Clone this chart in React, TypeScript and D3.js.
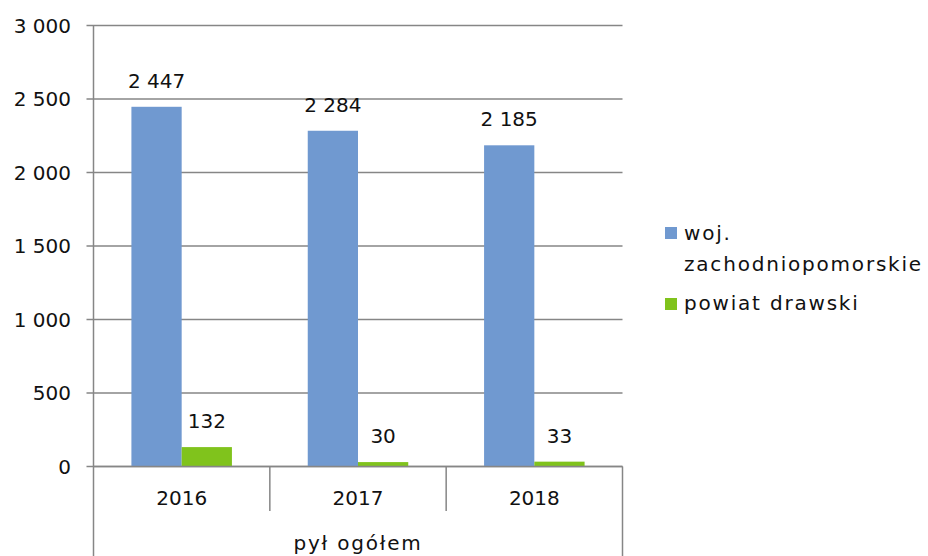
import React from "react";
import * as d3 from "d3";

const categories = ["2016", "2017", "2018"];
const seriesNames = ["woj. zachodniopomorskie", "powiat drawski"];
const wojValues = [2447, 2284, 2185];
const powiatValues = [132, 30, 33];
const yTicks = [0, 500, 1000, 1500, 2000, 2500, 3000];
const groupLabel = "pył ogółem";

const colors = ["#7099D0", "#80C31C"];
const fmt = (v: number) => {
  const s = String(v);
  return s.replace(/\B(?=(\d{3})+(?!\d))/g, " ");
};

export default function App() {
  const W = 928, H = 556;
  const left = 93.5, right = 622.5, top = 25.5, bottom = 466.5;
  const y = d3.scaleLinear().domain([0, 3000]).range([bottom, top]);
  const x = d3.scaleBand().domain(categories).range([left, right]).paddingInner(0).paddingOuter(0);
  const bw = x.bandwidth();
  const barW = bw * 0.285;
  const gap = (bw - 2 * barW) / 2;
  const series = [wojValues, powiatValues];
  const font = "'DejaVu Sans', sans-serif";
  const grid = "#868686";
  const fs = 20;
  const ink = "#111";
  const ls = 1.8;
  return (
    <svg width={W} height={H} style={{ position: "absolute", left: 0, top: 0 }} fontFamily={font}>
      <rect width={W} height={H} fill="#fff" />
      {yTicks.map((t) => (
        <g key={t}>
          <line x1={left - 7} x2={right} y1={y(t)} y2={y(t)} stroke={grid} strokeWidth={1.5} />
          <text x={71} y={y(t) + 7} textAnchor="end" fontSize={fs} fill={ink}>{fmt(t)}</text>
        </g>
      ))}
      {categories.map((c, i) =>
        series.map((vals, si) => {
          const bx = (x(c) as number) + gap + si * barW;
          return (
            <g key={c + si}>
              <rect x={bx} y={y(vals[i])} width={barW} height={bottom - y(vals[i])} fill={colors[si]} />
              <text x={bx + barW / 2} y={y(vals[i]) - 19} textAnchor="middle" fontSize={fs} fill={ink}>{fmt(vals[i])}</text>
            </g>
          );
        })
      )}
      <line x1={left} x2={left} y1={top} y2={H} stroke={grid} strokeWidth={1.5} />
      <line x1={right} x2={right} y1={bottom} y2={H} stroke={grid} strokeWidth={1.5} />
      <line x1={left} x2={right} y1={bottom} y2={bottom} stroke={grid} strokeWidth={1.5} />
      {categories.slice(1).map((c) => (
        <line key={c} x1={x(c) as number} x2={x(c) as number} y1={bottom} y2={511} stroke={grid} strokeWidth={1.5} />
      ))}
      {categories.map((c) => (
        <text key={c} x={(x(c) as number) + bw / 2} y={505} textAnchor="middle" fontSize={fs} fill={ink}>{c}</text>
      ))}
      <text x={(left + right) / 2} y={550} textAnchor="middle" fontSize={fs} letterSpacing={ls} fill={ink}>{groupLabel}</text>
      <rect x={665} y={227} width={12} height={12} fill={colors[0]} />
      <text x={684} y={240} fontSize={fs} letterSpacing={ls} fill={ink}>woj.</text>
      <text x={684} y={271} fontSize={fs} letterSpacing={ls} fill={ink}>zachodniopomorskie</text>
      <rect x={665} y={298} width={12} height={12} fill={colors[1]} />
      <text x={684} y={310} fontSize={fs} letterSpacing={ls} fill={ink}>{seriesNames[1]}</text>
    </svg>
  );
}
